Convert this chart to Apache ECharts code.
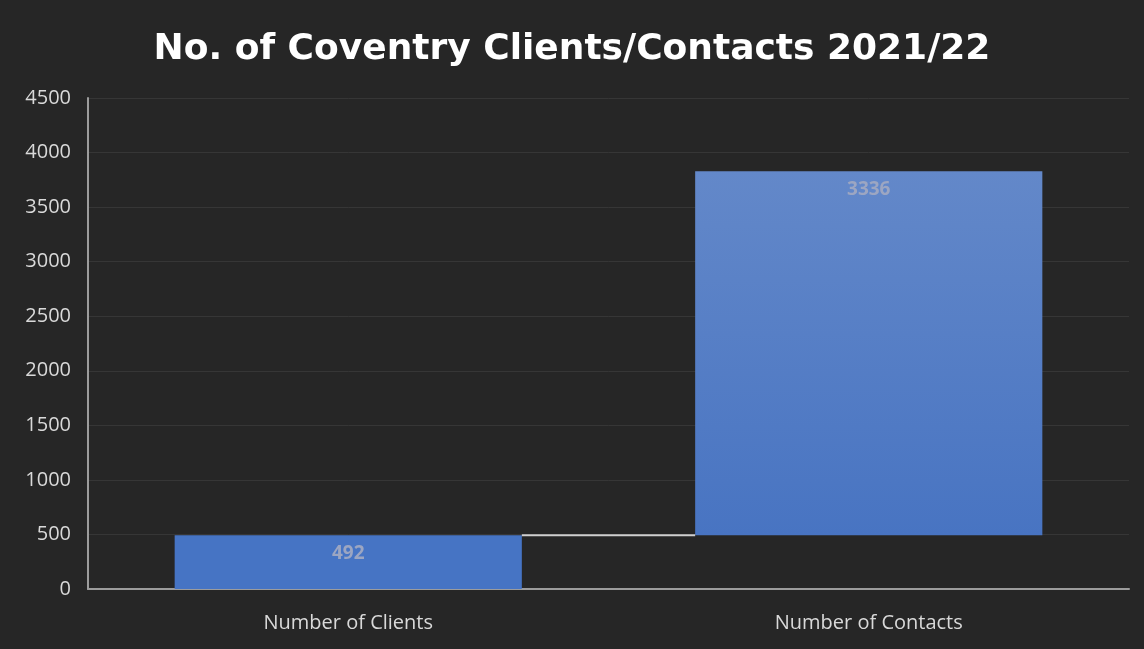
<!DOCTYPE html>
<html>
<head>
<meta charset="utf-8">
<script src="https://cdn.jsdelivr.net/npm/echarts@6/dist/echarts.min.js"></script>
<style>
  html, body { margin: 0; padding: 0; background: #262626; }
  #chart { width: 1144px; height: 649px; }
</style>
</head>
<body>
<div id="chart"></div>
<script>
// Waterfall: clients, then contacts stacked on top of the clients total
const categories = ['Number of Clients', 'Number of Contacts'];
const steps = [492, 3336];
const yTicks = [0, 500, 1000, 1500, 2000, 2500, 3000, 3500, 4000, 4500];

// invisible base under each step = running total before it
const bases = [];
let running = 0;
for (const v of steps) { bases.push(running); running += v; }

const BAR_RATIO = 0.667;
const chart = echarts.init(document.getElementById('chart'));

chart.setOption({
  backgroundColor: '#262626',
  animation: false,
  title: {
    text: 'No. of Coventry Clients/Contacts 2021/22',
    left: 'center',
    top: 27,
    textStyle: { color: '#ffffff', fontSize: 36, fontWeight: 'bold', fontFamily: 'DejaVu Sans' }
  },
  grid: { left: 88, right: 15, top: 98, bottom: 60 },
  xAxis: {
    type: 'category',
    data: categories,
    axisLine: { lineStyle: { color: '#9c9c9c', width: 2 } },
    axisTick: { show: false },
    axisLabel: { color: '#d9d9d9', fontSize: 20, fontFamily: 'Open Sans', margin: 24 }
  },
  yAxis: {
    type: 'value',
    min: yTicks[0],
    max: yTicks[yTicks.length - 1],
    interval: yTicks[1] - yTicks[0],
    axisLine: { show: true, lineStyle: { color: '#9c9c9c', width: 2 } },
    axisTick: { show: false },
    axisLabel: {
      color: '#d9d9d9', fontSize: 20, fontFamily: 'Open Sans', margin: 17,
      formatter: v => String(v)
    },
    splitLine: { lineStyle: { color: '#363636', width: 1 } }
  },
  series: [
    {
      type: 'bar',
      stack: 'w',
      data: bases,
      barWidth: (BAR_RATIO * 100) + '%',
      itemStyle: { color: 'transparent' },
      silent: true
    },
    {
      type: 'bar',
      stack: 'w',
      data: steps.map((v, i) => ({
        value: v,
        itemStyle: {
          color: i === 0 ? '#4674c4' : new echarts.graphic.LinearGradient(0, 0, 0, 1, [
            { offset: 0, color: '#6388c9' },
            { offset: 1, color: '#4874c2' }
          ])
        }
      })),
      barWidth: (BAR_RATIO * 100) + '%',
      label: {
        show: true,
        position: 'insideTop',
        distance: 9,
        color: '#9ca6c2',
        fontSize: 19,
        fontWeight: 'bold',
        fontFamily: 'Open Sans'
      }
    },
    {
      // connector from the top of one step to the base of the next
      type: 'custom',
      data: bases.slice(1).map((b, i) => [i, b]),
      renderItem: function (params, api) {
        const i = api.value(0);
        const y = api.value(1);
        const p0 = api.coord([i, y]);
        const p1 = api.coord([i + 1, y]);
        const half = api.size([1, 0])[0] * BAR_RATIO / 2;
        return {
          type: 'line',
          shape: { x1: p0[0] + half, y1: p0[1], x2: p1[0] - half, y2: p1[1] },
          style: { stroke: '#cfcfcf', lineWidth: 2 }
        };
      },
      z: 5
    }
  ]
});
</script>
</body>
</html>
